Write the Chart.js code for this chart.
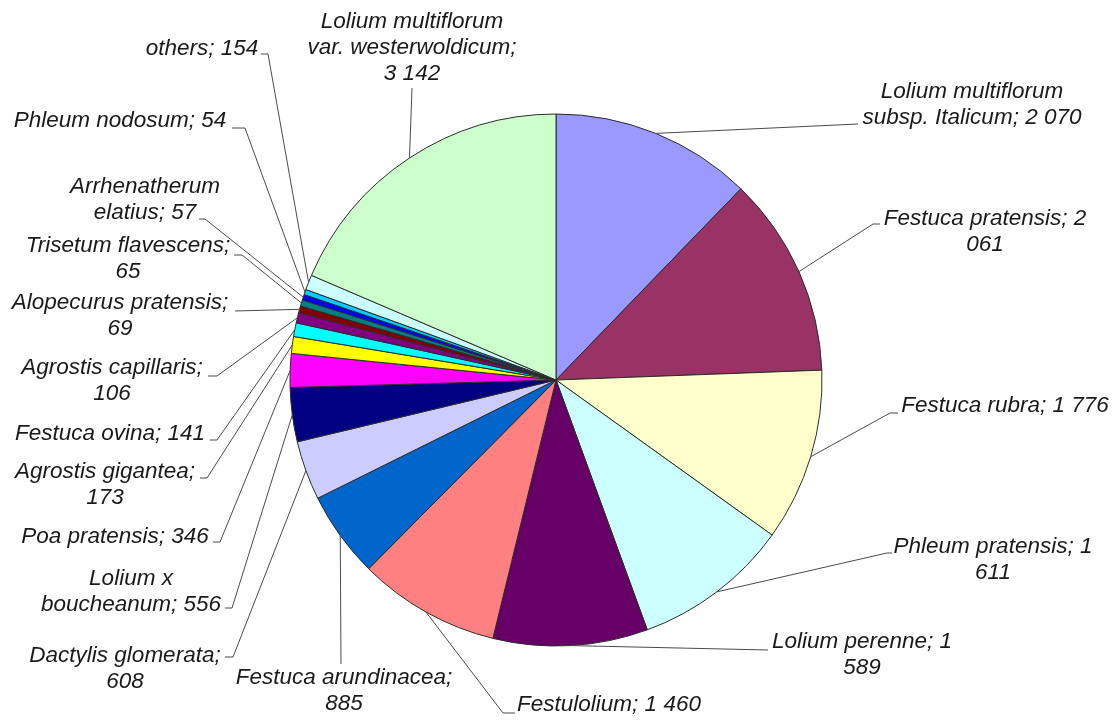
<!DOCTYPE html>
<html>
<head>
<meta charset="utf-8">
<script src="https://cdn.jsdelivr.net/npm/chart.js@4/dist/chart.umd.min.js"></script>
<style>
  body { margin: 0; background: #fff; }
  #wrap { width: 1114px; height: 720px; position: relative; }
</style>
</head>
<body>
<div id="wrap"><canvas id="grassChart"></canvas></div>
<script>
// seed quantities per species, clockwise from 12 o'clock
const categories = [
    'Lolium multiflorum subsp. Italicum', 'Festuca pratensis', 'Festuca rubra', 'Phleum pratensis',
    'Lolium perenne', 'Festulolium', 'Festuca arundinacea', 'Dactylis glomerata', 'Lolium x boucheanum',
    'Poa pratensis', 'Agrostis gigantea', 'Festuca ovina', 'Agrostis capillaris', 'Alopecurus pratensis',
    'Trisetum flavescens', 'Arrhenatherum elatius', 'Phleum nodosum', 'others',
    'Lolium multiflorum var. westerwoldicum'
];
const values = [2070, 2061, 1776, 1611, 1589, 1460, 885, 608, 556, 346, 173, 141, 106, 69, 65, 57, 54, 154, 3142];

// label text as it is wrapped in the picture
const labelLines = [
    ['Lolium multiflorum', 'subsp. Italicum; 2 070'],
    ['Festuca pratensis; 2', '061'],
    ['Festuca rubra; 1 776'],
    ['Phleum pratensis; 1', '611'],
    ['Lolium perenne; 1', '589'],
    ['Festulolium; 1 460'],
    ['Festuca arundinacea;', '885'],
    ['Dactylis glomerata;', '608'],
    ['Lolium x', 'boucheanum; 556'],
    ['Poa pratensis; 346'],
    ['Agrostis gigantea;', '173'],
    ['Festuca ovina; 141'],
    ['Agrostis capillaris;', '106'],
    ['Alopecurus pratensis;', '69'],
    ['Trisetum flavescens;', '65'],
    ['Arrhenatherum', 'elatius; 57'],
    ['Phleum nodosum; 54'],
    ['others; 154'],
    ['Lolium multiflorum', 'var. westerwoldicum;', '3 142']
];

const sliceColors = [
    '#9999FF', '#993366', '#FFFFCC', '#CCFFFF', '#660066', '#FF8080', '#0066CC', '#CCCCFF', '#000080',
    '#FF00FF', '#FFFF00', '#00FFFF', '#800080', '#800000', '#008080', '#0000FF', '#00CCFF', '#CCFFFF',
    '#CCFFCC'
];

// where each label sits (centre x, first line y) and where its leader line bends
const labelSpots = [
    { x: 972, y: 92, elbow: [858, 124] },
    { x: 985, y: 219, elbow: [873, 224], tick: 880 },
    { x: 1005, y: 406, elbow: [890, 413], tick: 898 },
    { x: 993, y: 547, elbow: [887, 553], tick: 892 },
    { x: 862, y: 642, elbow: [768, 650] },
    { x: 609, y: 705, elbow: [503, 713], tick: 515 },
    { x: 344, y: 678, elbow: [341, 664] },
    { x: 125, y: 656, elbow: [233, 657], tick: 225 },
    { x: 131, y: 579, elbow: [232, 608], tick: 225 },
    { x: 115, y: 537, elbow: [220, 542], tick: 213 },
    { x: 105, y: 472, elbow: [207, 478], tick: 200 },
    { x: 110, y: 434, elbow: [217, 440], tick: 210 },
    { x: 112, y: 368, elbow: [217, 376], tick: 208 },
    { x: 120, y: 303, elbow: [235, 311] },
    { x: 128, y: 246, elbow: [242, 255], tick: 234 },
    { x: 145, y: 187, elbow: [205, 219], tick: 199 },
    { x: 120, y: 121, elbow: [245, 128], tick: 232 },
    { x: 202, y: 49, elbow: [268, 54], tick: 261 },
    { x: 412, y: 22, elbow: [412, 88] }
];

const LINE_H = 26;

const leaderLabels = {
    id: 'leaderLabels',
    afterDatasetsDraw(chart) {
        const ctx = chart.ctx;
        const arcs = chart.getDatasetMeta(0).data;
        ctx.save();
        arcs.forEach((arc, i) => {
            const spot = labelSpots[i];
            const p = arc.getProps(['x', 'y', 'startAngle', 'endAngle', 'outerRadius'], true);
            const mid = (p.startAngle + p.endAngle) / 2;
            const px = p.x + Math.cos(mid) * p.outerRadius;
            const py = p.y + Math.sin(mid) * p.outerRadius;

            ctx.strokeStyle = '#4a4a4a';
            ctx.lineWidth = 1;
            ctx.beginPath();
            ctx.moveTo(px, py);
            ctx.lineTo(spot.elbow[0], spot.elbow[1]);
            if (spot.tick !== undefined) ctx.lineTo(spot.tick, spot.elbow[1]);
            ctx.stroke();

            ctx.fillStyle = '#1a1a1a';
            ctx.font = 'italic 22.5px "Liberation Sans", Arial, sans-serif';
            ctx.textAlign = 'center';
            ctx.textBaseline = 'middle';
            labelLines[i].forEach((line, k) => {
                ctx.fillText(line, spot.x, spot.y + k * LINE_H);
            });
        });
        ctx.restore();
    }
};

new Chart(document.getElementById('grassChart'), {
    type: 'pie',
    data: {
        labels: categories,
        datasets: [{
            data: values,
            backgroundColor: sliceColors,
            borderColor: '#2b2b2b',
            borderWidth: 1
        }]
    },
    options: {
        responsive: true,
        maintainAspectRatio: false,
        animation: false,
        radius: 266,
        layout: { padding: { top: 114, bottom: 74, left: 0, right: 2 } },
        plugins: {
            legend: { display: false },
            tooltip: { enabled: false }
        }
    },
    plugins: [leaderLabels]
});
</script>
</body>
</html>
